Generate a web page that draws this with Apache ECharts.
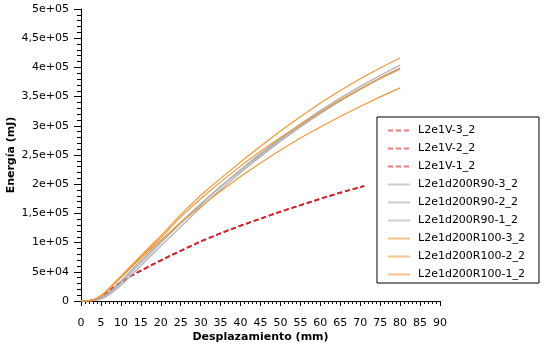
<!DOCTYPE html>
<html>
<head>
<meta charset="utf-8">
<script src="https://cdn.jsdelivr.net/npm/echarts@6/dist/echarts.min.js"></script>
<style>
  html, body { margin: 0; padding: 0; background: #fff; }
  #chart { width: 545px; height: 347px; }
</style>
</head>
<body>
<div id="chart"></div>
<script>
// Displacement samples (mm) for the R90 / R100 specimens
const desplazamiento = [0, 1, 2, 3, 4, 5, 6, 7, 8, 9, 10, 12, 14, 16, 18, 20, 25, 30, 35, 40, 45, 50, 55, 60, 65, 70, 75, 80];
// Displacement samples (mm) for the V specimens
const desplazamientoV = [0, 1, 2, 3, 4, 5, 6, 7, 8, 9, 10, 12, 14, 16, 18, 20, 25, 30, 35, 40, 45, 50, 55, 60, 65, 70, 71];

// Energy (mJ)
const v3 = [0, 100, 400, 1300, 3500, 7000, 11500, 16500, 22000, 27500, 32500, 41000, 48500, 55500, 62500, 69500, 86000, 102000, 116000, 129000, 141000, 153000, 164000, 175000, 185500, 195000, 197000];
const v2 = [0, 100, 400, 1300, 3500, 7000, 11500, 16500, 22000, 27500, 32600, 41100, 48600, 55600, 62600, 69600, 86100, 102100, 116100, 129100, 141100, 153100, 164100, 175100, 185600, 195100, 197100];
const v1 = [0, 100, 400, 1300, 3500, 7000, 11500, 16500, 22000, 27500, 32400, 40900, 48400, 55400, 62400, 69400, 85900, 101900, 115900, 128900, 140900, 152900, 163900, 174900, 185400, 194900, 196900];

const r90_3 = [0, 0, 100, 500, 1500, 3500, 6500, 10500, 15500, 21000, 27000, 40000, 53500, 67000, 80500, 94000, 127000, 160000, 191000, 220000, 247500, 273500, 298000, 321000, 342500, 362000, 380500, 397000];
const r90_2 = [0, 0, 150, 800, 2500, 5000, 8500, 13000, 18500, 24500, 31000, 44500, 58500, 72000, 85500, 99000, 133000, 165000, 196000, 225000, 252500, 278500, 303000, 326000, 347500, 367500, 386000, 404000];
const r90_1 = [0, 0, 200, 1000, 3000, 6000, 10000, 15000, 21000, 27500, 34000, 48000, 62000, 75500, 89000, 102000, 135000, 166000, 196000, 224000, 250500, 276500, 300500, 323000, 344000, 363500, 382000, 399000];

const r100_3 = [0, 100, 600, 2000, 5000, 9500, 15000, 21500, 28500, 35500, 42500, 56500, 70500, 84500, 98000, 111500, 148000, 181000, 210000, 238000, 265000, 291000, 315500, 339000, 360500, 380500, 399000, 416000];
const r100_2 = [0, 100, 500, 1700, 4500, 8800, 14000, 20500, 27500, 34500, 41000, 55000, 68500, 82000, 95000, 108000, 144000, 175000, 204000, 231000, 256500, 280000, 302000, 323500, 344000, 363500, 382000, 399000];
const r100_1 = [0, 100, 500, 1600, 4300, 8500, 13500, 20000, 27000, 33500, 40000, 53500, 66500, 79500, 92000, 104000, 134000, 162000, 188000, 213000, 236500, 258500, 279000, 298000, 316000, 333000, 349500, 365000];

const nombres = ['L2e1V-3_2', 'L2e1V-2_2', 'L2e1V-1_2',
                 'L2e1d200R90-3_2', 'L2e1d200R90-2_2', 'L2e1d200R90-1_2',
                 'L2e1d200R100-3_2', 'L2e1d200R100-2_2', 'L2e1d200R100-1_2'];

const FONT = 'DejaVu Sans';

function pares(xs, ys) {
  return ys.map((y, i) => [xs[i], y]);
}

function etiquetaY(v) {
  if (v === 0) return '0';
  const e = Math.floor(Math.log10(v) + 1e-9);
  const m = Math.round(v / Math.pow(10, e) * 100) / 100;
  return String(m).replace('.', ',') + 'e+' + String(e).padStart(2, '0');
}

function serie(name, xs, ys, color, dashed, width) {
  return {
    name: name,
    type: 'line',
    data: pares(xs, ys),
    symbol: 'none',
    showSymbol: false,
    smooth: false,
    lineStyle: { color: color, width: width, type: dashed ? [5, 3] : 'solid' },
    itemStyle: { color: color }
  };
}

const ROJO = '#d8262c', GRIS = '#ababab', NARANJA = '#f0983a';

const chart = echarts.init(document.getElementById('chart'), null, { renderer: 'canvas' });
chart.setOption({
  animation: false,
  backgroundColor: '#fff',
  grid: { left: 81, right: 105, top: 9, bottom: 46, containLabel: false, outerBoundsMode: 'none' },
  legend: {
    orient: 'vertical',
    left: 377,
    top: 117,
    padding: [8, 14, 3, 10],
    borderColor: '#000',
    borderWidth: 1,
    itemWidth: 22,
    itemHeight: 12,
    itemGap: 7,
    itemStyle: { opacity: 0 },
    lineStyle: { opacity: 0.6 },
    textStyle: { fontFamily: FONT, fontSize: 11, color: '#000', padding: [0, 0, 0, 3] },
    data: nombres
  },
  xAxis: {
    type: 'value',
    min: 0, max: 90, interval: 5,
    name: 'Desplazamiento (mm)',
    nameLocation: 'middle',
    nameGap: 31,
    nameMoveOverlap: false,
    nameTextStyle: { fontFamily: FONT, fontSize: 11, fontWeight: 'bold', color: '#000' },
    axisLine: { lineStyle: { color: '#000', width: 1 } },
    axisTick: { length: 5, lineStyle: { color: '#000' } },
    minorTick: { show: true, splitNumber: 5, length: 3, lineStyle: { color: '#000' } },
    axisLabel: { fontFamily: FONT, fontSize: 11, color: '#000', margin: 17 },
    splitLine: { show: false }
  },
  yAxis: {
    type: 'value',
    min: 0, max: 500000, interval: 50000,
    name: 'Energía (mJ)',
    nameLocation: 'middle',
    nameGap: 64,
    nameRotate: 90,
    nameMoveOverlap: false,
    nameTextStyle: { fontFamily: FONT, fontSize: 11, fontWeight: 'bold', color: '#000' },
    axisLine: { show: true, lineStyle: { color: '#000', width: 1 } },
    axisTick: { show: true, length: 7, lineStyle: { color: '#000' } },
    minorTick: { show: true, splitNumber: 5, length: 4, lineStyle: { color: '#000' } },
    axisLabel: { fontFamily: FONT, fontSize: 11, color: '#000', margin: 12, formatter: etiquetaY },
    splitLine: { show: false }
  },
  series: [
    serie(nombres[0], desplazamientoV, v3, ROJO, true, 1.6),
    serie(nombres[1], desplazamientoV, v2, ROJO, true, 1.6),
    serie(nombres[2], desplazamientoV, v1, ROJO, true, 1.6),
    serie(nombres[3], desplazamiento, r90_3, GRIS, false, 1.2),
    serie(nombres[4], desplazamiento, r90_2, GRIS, false, 1.2),
    serie(nombres[5], desplazamiento, r90_1, GRIS, false, 1.2),
    serie(nombres[6], desplazamiento, r100_3, NARANJA, false, 1.2),
    serie(nombres[7], desplazamiento, r100_2, NARANJA, false, 1.2),
    serie(nombres[8], desplazamiento, r100_1, NARANJA, false, 1.2)
  ]
});
</script>
</body>
</html>
